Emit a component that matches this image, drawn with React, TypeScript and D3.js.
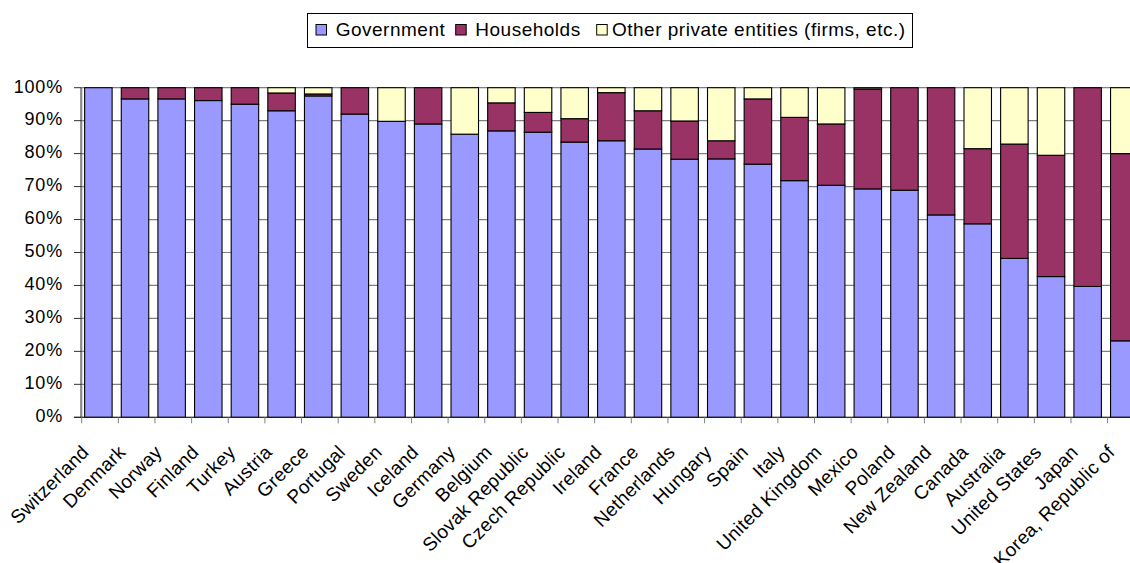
import React from "react";
import * as d3 from "d3";

const categories = [
  "Switzerland", "Denmark", "Norway", "Finland", "Turkey", "Austria", "Greece", "Portugal",
  "Sweden", "Iceland", "Germany", "Belgium", "Slovak Republic", "Czech Republic", "Ireland",
  "France", "Netherlands", "Hungary", "Spain", "Italy", "United Kingdom", "Mexico", "Poland",
  "New Zealand", "Canada", "Australia", "United States", "Japan", "Korea, Republic of",
];
const government = [
  100, 96.6, 96.6, 96.1, 95.0, 93.0, 97.5, 92.0,
  89.8, 89.0, 85.9, 86.9, 86.5, 83.5, 83.9,
  81.4, 78.3, 78.4, 76.8, 71.8, 70.4, 69.3, 68.9,
  61.4, 58.7, 48.2, 42.7, 39.7, 23.2,
];
const households = [
  0, 3.4, 3.4, 3.9, 5.0, 5.4, 0.6, 8.0,
  0, 11.0, 0, 8.5, 6.0, 7.1, 14.6,
  11.6, 11.6, 5.5, 19.8, 19.2, 18.6, 30.3, 31.1,
  38.6, 22.8, 34.7, 36.8, 60.3, 56.8,
];
const other = [
  0, 0, 0, 0, 0, 1.6, 1.9, 0,
  10.2, 0, 14.1, 4.6, 7.5, 9.4, 1.5,
  7.0, 10.1, 16.1, 3.4, 9.0, 11.0, 0.4, 0,
  0, 18.5, 17.1, 20.5, 0, 20.0,
];
const seriesNames = ["Government", "Households", "Other private entities (firms, etc.)"];
const seriesColors = ["#9999FF", "#993366", "#FFFFCC"];
const yTicks = [0, 10, 20, 30, 40, 50, 60, 70, 80, 90, 100];

const FONT = "'Liberation Sans', Arial, sans-serif";

export default function App() {
  const left = 81.7;
  const step = 36.64;
  const top = 87.7;
  const bottom = 417.3;
  const right = left + step * categories.length;

  const x = d3.scaleBand<string>().domain(categories).range([left, right]).padding(0);
  const y = d3.scaleLinear().domain([0, 100]).range([bottom, top]);

  const rows = categories.map((c, i) => ({
    cat: c,
    g: government[i],
    h: households[i],
    o: other[i],
  }));
  const stack = d3.stack<any>().keys(["g", "h", "o"]);
  const stacked = stack(rows);

  const bw = x.bandwidth();
  const barOff = bw * 0.08;
  const barW = bw * 0.75;

  const legendSquares = [316, 455.7, 596.7];
  const legendTexts = [335.7, 475.3, 612];

  return (
    <div style={{ position: "fixed", left: 0, top: 0, width: 1130, height: 563, overflow: "hidden", background: "#fff" }}>
      <svg width={1160} height={563} style={{ display: "block", fontFamily: FONT }}>
        {/* gridlines */}
        {yTicks.map((t) => (
          <line key={"g" + t} x1={left} x2={right} y1={y(t)} y2={y(t)} stroke="#808080" strokeWidth={1.2} />
        ))}
        {/* bars */}
        {stacked.map((s, si) => (
          <g key={s.key} fill={seriesColors[si]} stroke="#000" strokeWidth={1.1}>
            {s.map((d, i) => {
              const h = y(d[0]) - y(d[1]);
              if (h <= 0.01) return null;
              return (
                <rect
                  key={i}
                  x={(x(d.data.cat) as number) + barOff}
                  y={y(d[1])}
                  width={barW}
                  height={h}
                />
              );
            })}
          </g>
        ))}
        {/* y axis */}
        <line x1={left - 0.5} x2={left - 0.5} y1={top} y2={bottom} stroke="#8a8a8a" strokeWidth={2.2} />
        {yTicks.map((t) => (
          <g key={"yt" + t}>
            <line x1={74} x2={left} y1={y(t)} y2={y(t)} stroke="#303030" strokeWidth={1} />
            <text x={63} y={y(t) + 4.8} textAnchor="end" fontSize={18} letterSpacing={0.8} fill="#000">
              {t + "%"}
            </text>
          </g>
        ))}
        {/* x axis */}
        <line x1={74} x2={right} y1={bottom} y2={bottom} stroke="#202020" strokeWidth={1} />
        {categories.map((c) => (
          <line key={"xt" + c} x1={x(c) as number} x2={x(c) as number} y1={bottom} y2={bottom + 6} stroke="#808080" strokeWidth={1} />
        ))}
        {categories.map((c) => {
          const cx = (x(c) as number) + bw / 2;
          return (
            <text
              key={"xl" + c}
              transform={`translate(${cx - 10},${bottom + 36}) rotate(-45)`}
              textAnchor="end"
              fontSize={19}
              letterSpacing={0.3}
              fill="#000"
            >
              {c}
            </text>
          );
        })}
        {/* legend */}
        <rect x={307.5} y={13.5} width={605} height={34} fill="#fff" stroke="#000" strokeWidth={1} />
        {seriesNames.map((n, i) => (
          <g key={n}>
            <rect x={legendSquares[i]} y={24.5} width={10.5} height={10.5} fill={seriesColors[i]} stroke="#000" strokeWidth={1} />
            <text x={legendTexts[i]} y={35.5} fontSize={19} letterSpacing={0.5} fill="#000">
              {n}
            </text>
          </g>
        ))}
      </svg>
    </div>
  );
}
